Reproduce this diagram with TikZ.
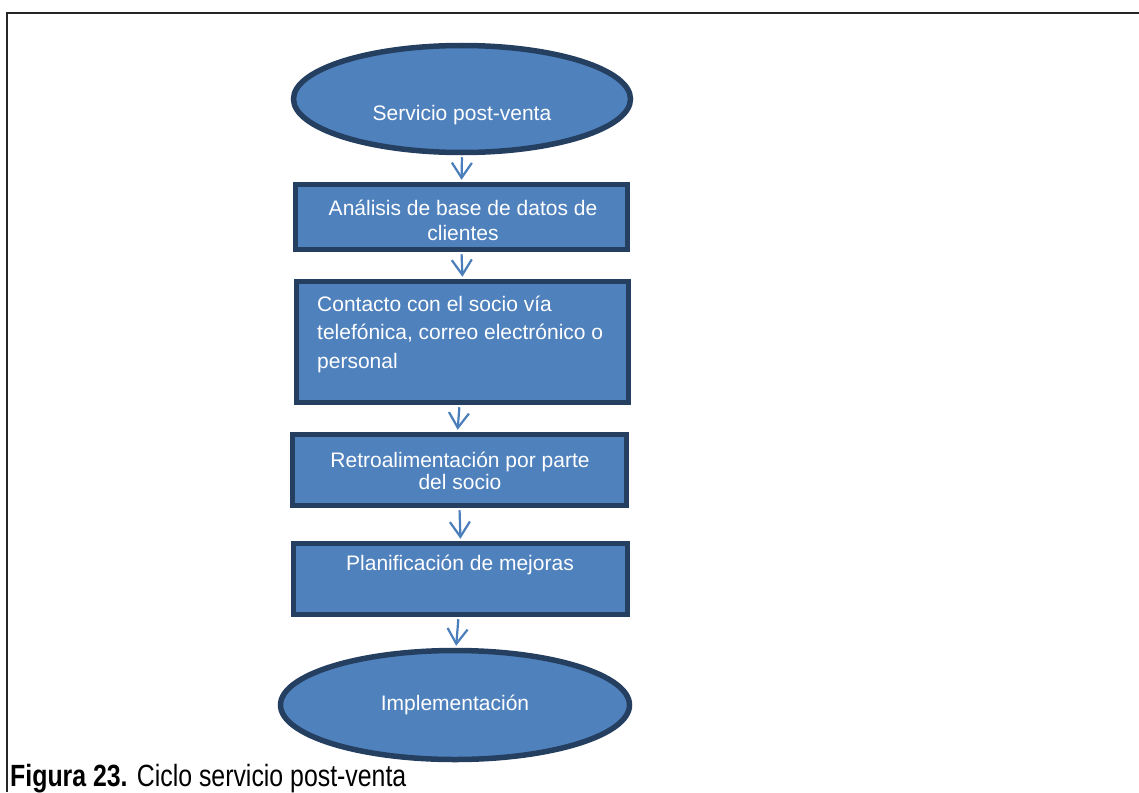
\documentclass[tikz,border=0pt]{standalone}
\usepackage{fontspec}
\setmainfont{Liberation Sans}
\usetikzlibrary{shapes.geometric,arrows.meta}
\definecolor{fillblue}{HTML}{4F81BD}
\definecolor{edgeblue}{HTML}{253F60}
\definecolor{arrowblue}{HTML}{4A7EBB}
\tikzset{
  shapebase/.style={draw=edgeblue, line width=5.5pt, fill=fillblue, inner sep=0pt},
  ovalbox/.style={shapebase, ellipse},
  stepbox/.style={shapebase, rectangle},
  boxtext/.style={text=white, font=\fontsize{21}{25}\selectfont, inner sep=0pt},
  flowarrow/.style={draw=arrowblue, line width=2.2pt, -{Straight Barb[length=15pt,width=20pt,line width=2.2pt]}, shorten >=2pt, shorten <=2pt}
}
\begin{document}
\begin{tikzpicture}[x=1pt,y=-1pt]
\useasboundingbox (0,0) rectangle (1139,792);
\draw[line width=2.4pt, black!85] (6.8,792) -- (6.8,12.8) -- (1139,12.8);

\node[ovalbox, minimum width=337pt, minimum height=107pt] (e1) at (462,99) {};
\node[stepbox, minimum width=332pt, minimum height=65pt] (b1) at (461.5,217) {};
\node[stepbox, minimum width=332pt, minimum height=121pt] (b2) at (462.5,342) {};
\node[stepbox, minimum width=334pt, minimum height=71pt] (b3) at (459.5,470) {};
\node[stepbox, minimum width=334pt, minimum height=71pt] (b4) at (460.5,579) {};
\node[ovalbox, minimum width=349pt, minimum height=109pt] (e2) at (455,705) {};

\node[boxtext] (t1) at (462,115) {Servicio post-venta};
\node[boxtext, align=center] (t2) at (463,220.5) {Análisis de base de datos de\\clientes};
\node[boxtext, align=left, anchor=west, font=\fontsize{21}{28.5}\selectfont] (t3) at (317,334) {Contacto con el socio vía\\telefónica, correo electrónico o\\personal};
\node[boxtext, align=center, font=\fontsize{21}{22.5}\selectfont] (t4) at (460,471) {Retroalimentación por parte\\del socio};
\node[boxtext] (t5) at (460,565) {Planificación de mejoras};
\node[boxtext] (t6) at (455,705) {Implementación};

\draw[flowarrow] (e1.south) -- (b1.north);
\draw[flowarrow] (b1.south) -- (b2.north);
\draw[flowarrow] ([xshift=-3pt]b2.south) -- ([xshift=-2pt]b3.north);
\draw[flowarrow] (b3.south) -- (b4.north);
\draw[flowarrow] ([xshift=-2pt]b4.south) -- ([xshift=1pt]e2.north);

\node[anchor=base west, inner sep=0pt] (cap) at (10,786) {\scalebox{0.81}[1]{\fontsize{30.7}{34}\selectfont\textbf{Figura 23.} Ciclo servicio post-venta}};
\end{tikzpicture}
\end{document}
